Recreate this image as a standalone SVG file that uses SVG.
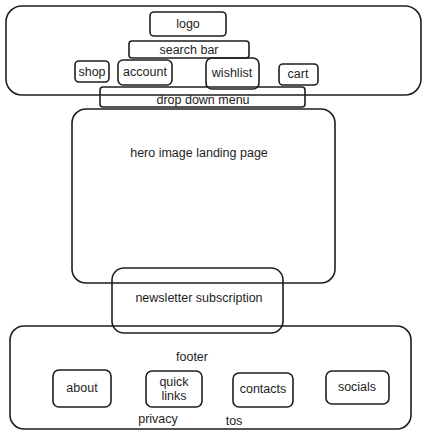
<svg xmlns="http://www.w3.org/2000/svg" width="427" height="435" viewBox="0 0 427 435">
<style>
.b{fill:none;stroke:#1e1e1e;stroke-width:1.6;stroke-linejoin:round}
.t{font-family:"Liberation Sans",Arial,sans-serif;font-size:12.5px;fill:#1e1e1e;text-anchor:middle;dominant-baseline:central}
</style>
<rect width="427" height="435" fill="#ffffff"/>
<g id="header"><rect class="b" x="6" y="6" width="415" height="89" rx="16"/></g>
<g id="logo"><rect class="b" x="150" y="12" width="76" height="24" rx="4"/><text class="t" x="188" y="24">logo</text></g>
<g id="search-bar"><rect class="b" x="129" y="41" width="120" height="17" rx="3"/><text class="t" x="189" y="50">search bar</text></g>
<g id="shop"><rect class="b" x="75" y="61" width="34" height="21" rx="4"/><text class="t" x="92" y="72">shop</text></g>
<g id="account"><rect class="b" x="118" y="60" width="54" height="25" rx="5"/><text class="t" x="145" y="72">account</text></g>
<g id="wishlist"><rect class="b" x="206" y="58" width="53" height="31" rx="6"/><text class="t" x="232" y="73">wishlist</text></g>
<g id="cart"><rect class="b" x="279" y="64" width="39" height="21" rx="4"/><text class="t" x="298" y="74">cart</text></g>
<g id="drop-down-menu"><rect class="b" x="100" y="87" width="205" height="20" rx="3"/><text class="t" x="203" y="100">drop down menu</text></g>
<g id="hero"><rect class="b" x="72" y="109" width="263" height="174" rx="14"/><text class="t" x="199" y="153">hero image landing page</text></g>
<g id="newsletter"><rect class="b" x="112" y="268" width="171" height="65" rx="12"/><text class="t" x="199" y="298">newsletter subscription</text></g>
<g id="footer"><rect class="b" x="10" y="326" width="401" height="103" rx="14"/><text class="t" x="192" y="357">footer</text></g>
<g id="about"><rect class="b" x="53" y="370" width="58" height="37" rx="6"/><text class="t" x="82" y="388">about</text></g>
<g id="quick-links"><rect class="b" x="146" y="371" width="56" height="36" rx="6"/><text class="t" x="174" y="382">quick</text><text class="t" x="174" y="396">links</text></g>
<g id="contacts"><rect class="b" x="233" y="373" width="60" height="34" rx="6"/><text class="t" x="263" y="389">contacts</text></g>
<g id="socials"><rect class="b" x="326" y="371" width="63" height="33" rx="6"/><text class="t" x="357" y="387">socials</text></g>
<g id="privacy"><text class="t" x="158" y="419">privacy</text></g>
<g id="tos"><text class="t" x="234" y="421">tos</text></g>
<g id="connectors"></g>
</svg>
